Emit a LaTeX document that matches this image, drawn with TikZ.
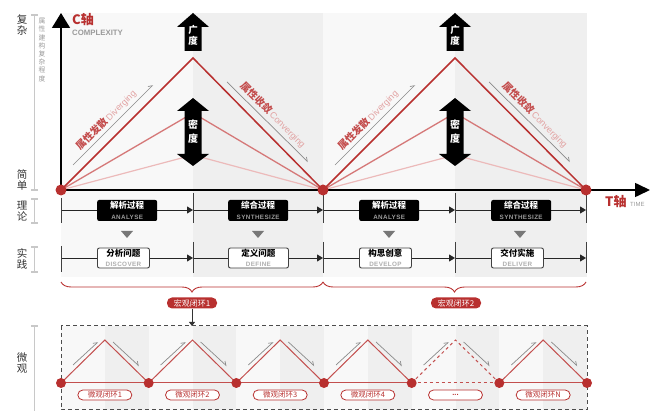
\documentclass[tikz,border=0pt]{standalone}
\usepackage{fontspec}
\setmainfont{Noto Sans CJK SC}
\newfontfamily\lat{Liberation Sans}
\newfontfamily\latsp[LetterSpace=6]{Liberation Sans}
\usetikzlibrary{arrows.meta,decorations.pathreplacing}
\definecolor{mred}{HTML}{B8302F}
\definecolor{mmid}{HTML}{D57878}
\definecolor{mlow}{HTML}{ECBABA}
\definecolor{bgl}{HTML}{F8F8F8}
\definecolor{bgd}{HTML}{EFEFEF}
\definecolor{gtxt}{HTML}{9A9A9A}
\definecolor{dtxt}{HTML}{333333}
\definecolor{tred}{HTML}{C34B4B}
\definecolor{tlred}{HTML}{E2A2A2}
\definecolor{brk}{HTML}{C8C8C8}
\definecolor{garr}{HTML}{8A8A8A}
\definecolor{tric}{HTML}{777777}
\newcommand{\fs}[2]{\fontsize{#1}{#2}\selectfont}
\tikzset{
  lbrk/.style={brk, line width=1.2pt},
  sidelbl/.style={text=dtxt, font=\fs{10.5}{11.5}, align=center, inner sep=0pt},
  mainln/.style={mred, line width=1.5pt, line join=miter},
  midln/.style={mmid, line width=1.3pt},
  lowln/.style={mlow, line width=1.2pt},
  garrow/.style={garr, line width=0.7pt, -{Straight Barb[harpoon,length=3.5pt,width=5pt]}},
  rowln/.style={black!85, line width=0.9pt, -{Triangle[length=6pt,width=7pt]}},
  tickln/.style={black!75, line width=1pt},
  bbox/.style={fill=black, rounded corners=2pt, minimum height=21pt, inner sep=0pt, anchor=west, align=center},
  wbox/.style={fill=white, draw=black!75, line width=0.9pt, rounded corners=2pt, minimum height=20pt, inner sep=0pt, anchor=west, align=center},
  mpill/.style={fill=mred, text=white, rounded corners=5pt, minimum width=50pt, minimum height=11pt, inner sep=0pt, font=\fs{8}{8}},
  upill/.style={fill=white, draw=mred, line width=0.8pt, text=mred, rounded corners=5pt, minimum width=54pt, minimum height=10pt, inner sep=0pt, font=\fs{7.5}{7.5}},
  mbrace/.style={mred, line width=0.9pt, decorate, decoration={brace, mirror, amplitude=10pt}},
  dotn/.style={circle, fill=mred, inner sep=0pt, minimum size=11pt},
  udot/.style={circle, fill=mred, inner sep=0pt, minimum size=10pt},
  ulin/.style={mred!85, line width=1pt},
}
\newcommand{\bt}[2]{{\fs{8.5}{9}\bfseries #1}\\[-1.5pt]{\latsp\bfseries\fs{6.3}{6.3}#2}}
\begin{document}
\begin{tikzpicture}[x=1pt,y=-1pt]
\useasboundingbox (0,0) rectangle (656,411);

% backgrounds
\fill[bgl] (61,13) rectangle (193,277);
\fill[bgd] (193,13) rectangle (323,277);
\fill[bgl] (323,13) rectangle (455,277);
\fill[bgd] (455,13) rectangle (587,277);

% micro backgrounds
\foreach \k in {0,...,5}{
  \pgfmathsetmacro{\xa}{61+87.667*\k}
  \pgfmathsetmacro{\xb}{\xa+43.833}
  \pgfmathsetmacro{\xc}{\xa+87.667}
  \fill[bgl] (\xa,326) rectangle (\xb,410);
  \fill[bgd] (\xb,326) rectangle (\xc,410);
}

% left labels and brackets
\node[sidelbl] (l1) at (22,25) {复\\杂};
\node[sidelbl] (l2) at (22,180) {简\\单};
\node[sidelbl] (l3) at (22,211) {理\\论};
\node[sidelbl] (l4) at (22,259) {实\\践};
\node[sidelbl] (l5) at (22,363) {微\\观};
\node[text=gtxt, font=\fs{6.8}{8.2}, align=center, inner sep=0pt] (lv) at (42,50) {属\\性\\建\\构\\复\\杂\\程\\度};
\draw[lbrk] (31,15) -- (38,15) (34.5,15) -- (34.5,190) (31,190) -- (38,190);
\draw[lbrk] (31,199) -- (38,199) (34.5,199) -- (34.5,223) (31,223) -- (38,223);
\draw[lbrk] (31,247) -- (38,247) (34.5,247) -- (34.5,272) (31,272) -- (38,272);
\draw[lbrk] (31,326) -- (38,326) (34.5,326) -- (34.5,411);

% red curves
\draw[lowln] (61,190) -- (193,155) -- (323,190) -- (455,155) -- (586,190);
\draw[midln] (61,190) -- (193,113) -- (323,190) -- (455,113) -- (586,190);
\draw[mainln] (61,190) -- (193,58) -- (323,190) -- (455,58) -- (586,190);

% slope texts and arrows
\foreach \dx in {0,262}{
  \begin{scope}[xshift=\dx pt]
  \draw[garrow] (73,165) -- (153,85);
  \draw[garrow] (227,82) -- (308,162);
  \node[rotate=45, inner sep=0pt] at (106,120) {\textcolor{tred}{\fs{10}{10}\bfseries 属性发散}\,\textcolor{tlred}{\lat\fs{9}{9}Diverging}};
  \node[rotate=-45, inner sep=0pt] at (273,115) {\textcolor{tred}{\fs{10}{10}\bfseries 属性收敛}\,\textcolor{tlred}{\lat\fs{9}{9}Converging}};
  \end{scope}
}

% black arrows
\foreach \x in {193,455}{
  \fill[black] (\x,13) -- (\x+16,27) -- (\x+8.5,27) -- (\x+8.5,51) -- (\x-8.5,51) -- (\x-8.5,27) -- (\x-16,27) -- cycle;
  \node[text=white, font=\fs{9.5}{11}\bfseries, align=center, inner sep=0pt] at (\x,35) {广\\度};
  \fill[black] (\x,98) -- (\x+16,111) -- (\x+8.5,111) -- (\x+8.5,154) -- (\x+16,154) -- (\x,166) -- (\x-16,154) -- (\x-8.5,154) -- (\x-8.5,111) -- (\x-16,111) -- cycle;
  \node[text=white, font=\fs{10}{13.5}\bfseries, align=center, inner sep=0pt] at (\x,131.5) {密\\度};
}

% axes
\draw[black, line width=1.6pt, -{Triangle[length=15pt,width=18pt]}] (61,190) -- (61,13);
\draw[black, line width=1.6pt, -{Triangle[length=15pt,width=14pt]}] (61,190) -- (650,190);
\node[text=mred, font=\fs{13}{13}\bfseries, anchor=west, inner sep=0pt] (ca) at (72,20) {C轴};
\node[text=gtxt, font=\lat\bfseries\fs{7.8}{8}, anchor=west, inner sep=0pt] (cb) at (72,33) {COMPLEXITY};
\node[text=mred, font=\fs{13}{13}\bfseries, anchor=west, inner sep=0pt] (ta) at (605,202) {T轴};
\node[text=gtxt, font=\lat\fs{6}{6}, anchor=west, inner sep=0pt] (tb) at (630,204) {TIME};

% rows
\foreach \a/\b in {61/193,193/323,323/455,455/586}{
  \draw[rowln] (\a,210) -- (\b,210);
  \draw[rowln] (\a,258) -- (\b,258);
}
\draw[tickln] (61,198) -- (61,223) (61,246) -- (61,272);
\foreach \x in {193,323,455,586}{
  \draw[tickln] (\x,193) -- (\x,223) (\x,242) -- (\x,273);
}
\node[bbox, minimum width=60pt, text=white] (a1) at (97,210.5) {\bt{解析过程}{\textcolor{gtxt}{ANALYSE}}};
\node[bbox, minimum width=60pt, text=white] (a2) at (228,210.5) {\bt{综合过程}{\textcolor{gtxt}{SYNTHESIZE}}};
\node[bbox, minimum width=60pt, text=white] (a3) at (359,210.5) {\bt{解析过程}{\textcolor{gtxt}{ANALYSE}}};
\node[bbox, minimum width=60pt, text=white] (a4) at (491,210.5) {\bt{综合过程}{\textcolor{gtxt}{SYNTHESIZE}}};
\node[wbox, minimum width=52pt, text=black] (p1) at (97,258) {\bt{分析问题}{\textcolor{gtxt!80}{DISCOVER}}};
\node[wbox, minimum width=60pt, text=black] (p2) at (228,258) {\bt{定义问题}{\textcolor{gtxt!80}{DEFINE}}};
\node[wbox, minimum width=52pt, text=black] (p3) at (359,258) {\bt{构思创意}{\textcolor{gtxt!80}{DEVELOP}}};
\node[wbox, minimum width=52pt, text=black] (p4) at (491,258) {\bt{交付实施}{\textcolor{gtxt!80}{DELIVER}}};
\foreach \x in {127,258,389,520}{
  \fill[tric] (\x-6,231) -- (\x+6,231) -- (\x,238) -- cycle;
}

% main dots
\node[dotn] (d1) at (61,190) {};
\node[dotn] (d2) at (323,190) {};
\node[dotn] (d3) at (586,190) {};

% braces and macro pills
\draw[mbrace] (61,282) -- (323,282);
\draw[mbrace] (323,282) -- (586,282);
\node[mpill] (m1) at (192,303) {宏观闭环1};
\node[mpill] (m2) at (456,303) {宏观闭环2};
\coordinate (mt) at (192,326);
\draw[black!80, line width=1pt, -{Triangle[length=4pt,width=6pt]}] (m1.south) -- (mt);

% micro box
\draw[black!70, line width=1pt, dash pattern=on 4pt off 3pt] (61,326) rectangle (587,410);

% micro loops
\foreach \k/\lab in {0/微观闭环1,1/微观闭环2,2/微观闭环3,3/微观闭环4,4/{\lat\textbf{...}},5/微观闭环N}{
  \pgfmathsetmacro{\xa}{61+87.667*\k}
  \pgfmathsetmacro{\xb}{\xa+43.833}
  \pgfmathsetmacro{\xc}{\xa+87.667}
  \ifnum\k=4
    \draw[ulin, dashed] (\xa,383) -- (\xb,340) -- (\xc,383);
    \draw[ulin, dashed] (\xa,383) -- (\xc,383);
  \else
    \draw[ulin] (\xa,383) -- (\xb,340) -- (\xc,383);
    \draw[ulin] (\xa,383) -- (\xc,383);
  \fi
  \draw[garrow] (\xa+12,365) -- (\xa+37,342);
  \draw[garrow] (\xa+52,342) -- (\xa+78,366);
  \node[upill] at (\xb,395) {\lab};
}
\foreach \k in {0,...,6}{
  \pgfmathsetmacro{\xa}{61+87.667*\k}
  \node[udot] at (\xa,383) {};
}
\end{tikzpicture}
\end{document}
